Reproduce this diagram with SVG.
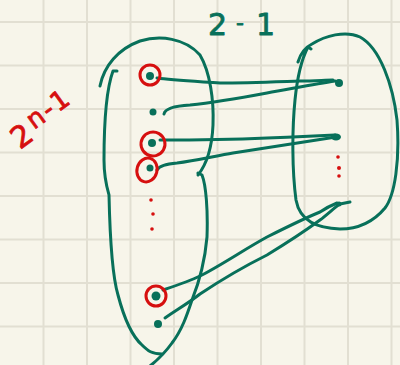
<svg xmlns="http://www.w3.org/2000/svg" width="400" height="365" viewBox="0 0 400 365">
<style>
.grid{stroke:#e2dfd2;stroke-width:2}
.ink{fill:none;stroke:#08705a;stroke-width:3;stroke-linecap:round;stroke-linejoin:round}
.dot{fill:#08705a}
.ring{fill:none;stroke:#d60f0f;stroke-width:3}
.rdot{fill:#d60f0f}
.hand{font-family:"DejaVu Sans",sans-serif;stroke-width:0.8;stroke-linejoin:round}
</style>
<rect width="400" height="365" fill="#f7f5ea"/>
<g id="grid">
<path class="grid" d="M43.5,0V365M87,0V365M130.5,0V365M174,0V365M217.5,0V365M261,0V365M304.5,0V365M348,0V365M391.5,0V365M0,22H400M0,65.5H400M0,109H400M0,152.5H400M0,196H400M0,239.5H400M0,283H400M0,326.5H400"/>
</g>
<g id="label-top">
<text class="hand" x="208" y="35" font-size="30" fill="#08705a" stroke="#08705a"><tspan x="208">2</tspan><tspan x="236" y="30" font-size="22">-</tspan><tspan x="256" y="35">1</tspan></text>
</g>
<g id="label-left">
<text class="hand" transform="translate(20,150) rotate(-36)" font-size="30" fill="#d60f0f" stroke="#d60f0f" letter-spacing="2">2<tspan dx="2" dy="-8" font-size="26">n-1</tspan></text>
</g>
<g id="domain">
<path class="ink" d="M100,86 C104,66 118,49 140,41 C160,35 185,38 200,55 C210,72 214,100 213,125 C212,148 206,165 198,175"/>
<path class="ink" d="M117,71 L113,71 C106,90 104,130 104,160 C104,178 107,188 109,195 C110,240 112,275 118,295 C124,318 133,337 142,345 C148,351 152,354 162,354"/>
<path class="ink" d="M198,173 L202,175 C206,185 208,210 207,237 C205,260 198,285 192,300 C187,315 182,330 172,343 C167,350 160,358 150,366"/>
</g>
<g id="codomain">
<path class="ink" d="M298,62 C300,55 304,48 312,44 C325,36 345,30 360,37 C380,48 393,85 397,120 C400,160 395,195 385,208 C375,220 360,229 340,229 C318,228 300,222 296,200 C292,170 292,130 295,100 C297,80 300,62 308,47 L311,49"/>
</g>
<g id="connectors">
<path class="ink" d="M157,78 C170,80 190,81 220,83 C245,83 270,82 300,81 C315,81 325,80 333,80"/>
<path class="ink" d="M164,114 C165,109 172,106 190,105 C210,103 235,99 267,93 C290,89 315,84 335,81"/>
<path class="ink" d="M160,140 C190,140 220,140 267,138 C290,137 315,136 335,135"/>
<path class="ink" d="M157,170 C159,166 165,164 177,163 C195,161 215,156 233,153 C260,149 290,144 336,137"/>
<path class="ink" d="M163,290 C175,286 190,281 200,276 C220,266 245,249 267,237 C285,228 305,218 320,212 C326,208 332,205 337,203"/>
<path class="ink" d="M165,318 C175,311 190,302 200,294 C215,284 245,266 267,255 C285,244 305,231 320,220 C328,214 335,207 340,204 L350,202"/>
</g>
<g id="dom-1"><ellipse class="ring" cx="150" cy="75" rx="10" ry="10"/><circle class="dot" cx="150" cy="76" r="4"/></g>
<g id="dom-2"><circle class="dot" cx="153" cy="112" r="3.5"/></g>
<g id="dom-3"><ellipse class="ring" cx="153" cy="144" rx="12" ry="12" transform="rotate(30 153 144)"/><circle class="dot" cx="152" cy="143" r="4"/></g>
<g id="dom-4"><ellipse class="ring" cx="147" cy="170" rx="10" ry="12" transform="rotate(15 147 170)"/><circle class="dot" cx="150" cy="168" r="3.5"/></g>
<g id="dom-dots"><circle class="rdot" cx="151" cy="200" r="1.8"/><circle class="rdot" cx="153" cy="214" r="1.8"/><circle class="rdot" cx="152" cy="229" r="1.8"/></g>
<g id="dom-5"><ellipse class="ring" cx="156" cy="296" rx="10" ry="10"/><circle class="dot" cx="156" cy="296" r="4.5"/></g>
<g id="dom-6"><circle class="dot" cx="158" cy="324" r="4"/></g>
<g id="cod-1"><circle class="dot" cx="339" cy="83" r="4"/></g>
<g id="cod-2"><ellipse class="dot" cx="336" cy="137" rx="5" ry="3.5"/></g>
<g id="cod-dots"><circle class="rdot" cx="338" cy="157" r="1.8"/><circle class="rdot" cx="339" cy="168" r="2"/><circle class="rdot" cx="339" cy="176" r="1.8"/></g>
<g id="cod-3"><circle class="dot" cx="339" cy="204" r="2.5"/></g>
</svg>
